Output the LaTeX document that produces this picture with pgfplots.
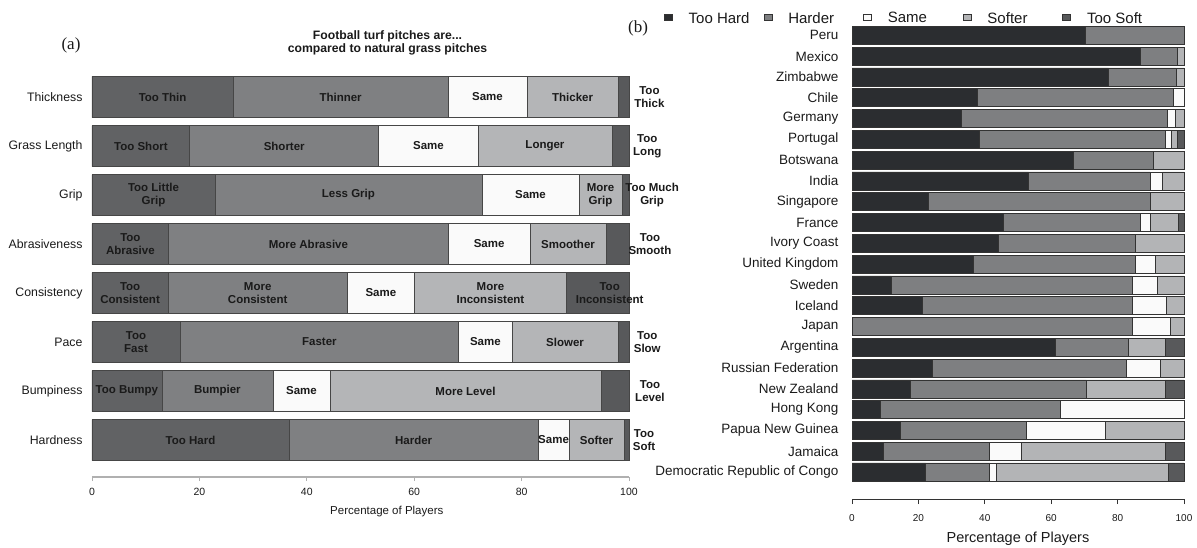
\documentclass[border=0pt]{standalone}
\usepackage{pgfplots}
\pgfplotsset{compat=1.18}
\usepackage{pgfplotstable}
\usepackage{fontspec}
\setmainfont{Liberation Sans}
\newfontfamily\seriffont{Liberation Serif}

\definecolor{aTooL}{RGB}{97,98,100}
\definecolor{aMid}{RGB}{127,128,130}
\definecolor{aSame}{RGB}{250,250,250}
\definecolor{aLight}{RGB}{180,181,183}
\definecolor{aTooR}{RGB}{88,89,91}
\definecolor{aBord}{RGB}{70,70,70}
\definecolor{aAxis}{RGB}{176,176,176}
\definecolor{bTH}{RGB}{43,45,48}
\definecolor{bH}{RGB}{126,127,129}
\definecolor{bS}{RGB}{250,250,250}
\definecolor{bSo}{RGB}{179,180,182}
\definecolor{bTS}{RGB}{88,89,91}
\definecolor{bBord}{RGB}{51,51,51}
\definecolor{txt}{RGB}{26,26,26}

% panel (a): r=7 Thickness ... r=0 Hardness
\pgfplotstableread{
r a b c d e
7 26.3 40.0 14.7 17.0 2.0
6 18.2 35.2 18.5 24.9 3.2
5 22.9 49.7 18.1 8.0 1.3
4 14.3 52.0 15.3 14.1 4.3
3 14.2 33.3 12.6 28.2 11.7
2 16.4 51.9 9.9 19.8 2.0
1 13.0 20.7 10.6 50.5 5.2
0 36.7 46.4 5.7 10.3 0.9
}\tabA

% panel (b): r=21 Peru ... r=0 DR Congo
\pgfplotstableread{
r a b c d e
21 70.4 29.6 0 0 0
20 86.9 11.0 0 2.1 0
19 77.3 20.4 0 2.3 0
18 37.6 59.3 3.1 0 0
17 32.8 62.3 2.4 2.5 0
16 38.2 56.2 1.9 1.6 2.1
15 66.7 24.1 0 9.2 0
14 53.2 36.6 3.8 6.4 0
13 23.1 66.6 0 10.3 0
12 45.7 41.2 2.8 8.6 1.7
11 44.1 41.2 0 14.7 0
10 36.6 48.7 6.2 8.5 0
9 11.8 72.5 7.7 8.0 0
8 21.1 63.2 10.5 5.2 0
7 0 84.3 11.6 4.1 0
6 61.1 22.2 0 11.0 5.7
5 24.3 58.4 10.1 7.2 0
4 17.7 52.9 0 23.7 5.7
3 8.6 54.1 37.3 0 0
2 14.4 38.1 23.9 23.6 0
1 9.5 32.0 9.4 43.4 5.7
0 22.2 19.3 2.0 51.7 4.8
}\tabB

\tikzset{
  lab/.style={font=\fontsize{11.5}{12.8}\selectfont\bfseries, text=txt, align=center, inner sep=0pt},
  legsq/.style={legend image code/.code={\draw[##1,line width=0.5pt] (0pt,-4pt) rectangle (8pt,4pt);}},
}
\pgfplotsset{
  panelA/.style={at={(92pt,70pt)}, anchor=south west, scale only axis,
    width=537pt, height=404.5pt, xmin=0, xmax=100, ymin=-0.755, ymax=7.5, clip=false},
}

\begin{document}
\begin{tikzpicture}[x=1pt,y=1pt]
\useasboundingbox (0,0) rectangle (1197,547);

% ---------------- panel (a)
\begin{axis}[
  panelA,
  xbar stacked, bar width=41pt,
  axis x line*=bottom, axis y line*=left,
  y axis line style={draw=none},
  x axis line style={draw=aAxis, line width=1.3pt},
  xtick={0,20,...,100}, ytick={0,...,7},
  yticklabels={Hardness,Bumpiness,Pace,Consistency,Abrasiveness,Grip,Grass Length,Thickness},
  ytick style={draw=none},
  xtick style={draw=aAxis, line width=0.9pt},
  tick align=outside, major tick length=4pt,
  xticklabel style={font=\fontsize{10.5}{12}\selectfont, text=txt, yshift=-4pt},
  yticklabel style={font=\fontsize{12.3}{14}\selectfont, text=txt, xshift=-2pt},
  /pgf/number format/assume math mode=true,
  xlabel={Percentage of Players},
  xlabel style={at={(axis description cs:0.549,0)}, anchor=center, yshift=-35pt,
    font=\fontsize{11.5}{13}\selectfont, text=txt},
]
\addplot[fill=aTooL, draw=aBord, line width=0.6pt] table[x=a,y=r] {\tabA};
\addplot[fill=aMid, draw=aBord, line width=0.6pt] table[x=b,y=r] {\tabA};
\addplot[fill=aSame, draw=aBord, line width=0.6pt] table[x=c,y=r] {\tabA};
\addplot[fill=aLight, draw=aBord, line width=0.6pt] table[x=d,y=r] {\tabA};
\addplot[fill=aTooR, draw=aBord, line width=0.6pt] table[x=e,y=r] {\tabA};
\end{axis}

% labels of panel (a), on top of the bars
\begin{axis}[panelA, hide axis]
% Thickness
\node[lab] at (axis cs:13.15,7) {Too Thin};
\node[lab] at (axis cs:46.3,7) {Thinner};
\node[lab] at (axis cs:73.65,7) {Same};
\node[lab] at (axis cs:89.5,7) {Thicker};
\node[lab] at (axis cs:103.8,7) {Too\\Thick};
% Grass Length
\node[lab] at (axis cs:9.1,6) {Too Short};
\node[lab] at (axis cs:35.8,6) {Shorter};
\node[lab] at (axis cs:62.65,6) {Same};
\node[lab] at (axis cs:84.35,6) {Longer};
\node[lab] at (axis cs:103.4,6) {Too\\Long};
% Grip
\node[lab] at (axis cs:11.45,5) {Too Little\\Grip};
\node[lab] at (axis cs:47.75,5) {Less Grip};
\node[lab] at (axis cs:81.65,5) {Same};
\node[lab] at (axis cs:94.7,5) {More\\Grip};
\node[lab] at (axis cs:104.3,5) {Too Much\\Grip};
% Abrasiveness
\node[lab] at (axis cs:7.15,4) {Too\\Abrasive};
\node[lab] at (axis cs:40.3,4) {More Abrasive};
\node[lab] at (axis cs:73.95,4) {Same};
\node[lab] at (axis cs:88.65,4) {Smoother};
\node[lab] at (axis cs:103.9,4) {Too\\Smooth};
% Consistency
\node[lab] at (axis cs:7.1,3) {Too\\Consistent};
\node[lab] at (axis cs:30.85,3) {More\\Consistent};
\node[lab] at (axis cs:53.8,3) {Same};
\node[lab] at (axis cs:74.2,3) {More\\Inconsistent};
\node[lab] at (axis cs:96.4,3) {Too\\Inconsistent};
% Pace
\node[lab] at (axis cs:8.2,2) {Too\\Fast};
\node[lab] at (axis cs:42.35,2) {Faster};
\node[lab] at (axis cs:73.25,2) {Same};
\node[lab] at (axis cs:88.1,2) {Slower};
\node[lab] at (axis cs:103.4,2) {Too\\Slow};
% Bumpiness
\node[lab] at (axis cs:6.5,1) {Too Bumpy};
\node[lab] at (axis cs:23.35,1) {Bumpier};
\node[lab] at (axis cs:39,1) {Same};
\node[lab] at (axis cs:69.55,1) {More Level};
\node[lab] at (axis cs:103.9,1) {Too\\Level};
% Hardness
\node[lab] at (axis cs:18.35,0) {Too Hard};
\node[lab] at (axis cs:59.9,0) {Harder};
\node[lab] at (axis cs:85.95,0) {Same};
\node[lab] at (axis cs:93.95,0) {Softer};
\node[lab] at (axis cs:102.8,0) {Too\\Soft};
\end{axis}

\node[font=\fontsize{12.2}{13}\selectfont\bfseries, text=txt, align=center] at (387.5,504.5)
  {Football turf pitches are...\\compared to natural grass pitches};
\node[font=\seriffont\fontsize{17}{20}\selectfont, text=txt] at (71,502) {(a)};
\node[font=\seriffont\fontsize{17}{20}\selectfont, text=txt] at (638,519) {(b)};

% ---------------- panel (b)
\begin{axis}[
  at={(852pt,48pt)}, anchor=south west, scale only axis,
  width=332pt, height=474pt,
  xmin=0, xmax=100, ymin=-1.3, ymax=21.5,
  xbar stacked, bar width=18pt,
  axis x line*=bottom, axis y line*=left,
  y axis line style={draw=none},
  x axis line style={draw=bBord, line width=0.8pt},
  xtick={0,20,...,100}, ytick={0,...,21},
  yticklabels={Democratic Republic of Congo,Jamaica,Papua New Guinea,Hong Kong,New Zealand,Russian Federation,Argentina,Japan,Iceland,Sweden,United Kingdom,Ivory Coast,France,Singapore,India,Botswana,Portugal,Germany,Chile,Zimbabwe,Mexico,Peru},
  ytick style={draw=none},
  xtick style={draw=bBord, line width=0.8pt},
  tick align=outside, major tick length=5pt,
  xticklabel style={font=\fontsize{10}{12}\selectfont, text=txt, yshift=-7pt},
  yticklabel style={font=\fontsize{13.5}{15}\selectfont, text=txt, xshift=-5pt},
  /pgf/number format/assume math mode=true,
  clip=false,
  xlabel={Percentage of Players},
  xlabel style={at={(axis description cs:0.5,0)}, anchor=center, yshift=-40pt,
    font=\fontsize{14.5}{16}\selectfont, text=txt},
  legend columns=5,
  legend style={draw=none, fill=none, inner sep=0pt, outer sep=0pt,
    at={(-0.566,1.0137)}, anchor=west,
    font=\fontsize{15}{18}\selectfont, text=txt,
    nodes={inner sep=0pt},
    /tikz/every odd column/.append style={column sep=16pt},
    /tikz/every even column/.append style={column sep=5pt}},
]
\addplot[fill=bTH, draw=bBord, line width=0.6pt, legsq] table[x=a,y=r] {\tabB};
\addlegendentry{\makebox[70pt][l]{Too Hard}}
\addplot[fill=bH, draw=bBord, line width=0.6pt, legsq] table[x=b,y=r] {\tabB};
\addlegendentry{\makebox[70pt][l]{Harder}}
\addplot[fill=bS, draw=bBord, line width=0.6pt, legsq] table[x=c,y=r] {\tabB};
\addlegendentry{\makebox[70pt][l]{Same}}
\addplot[fill=bSo, draw=bBord, line width=0.6pt, legsq] table[x=d,y=r] {\tabB};
\addlegendentry{\makebox[70pt][l]{Softer}}
\addplot[fill=bTS, draw=bBord, line width=0.6pt, legsq] table[x=e,y=r] {\tabB};
\addlegendentry{\makebox[70pt][l]{Too Soft}}
\end{axis}
\end{tikzpicture}
\end{document}
